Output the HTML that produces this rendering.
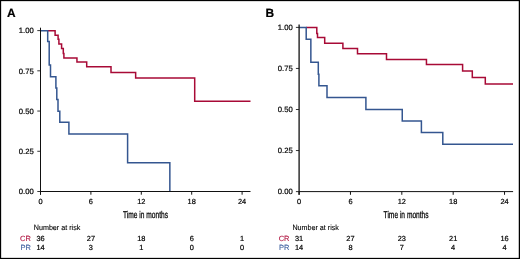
<!DOCTYPE html>
<html><head><meta charset="utf-8"><style>
html,body{margin:0;padding:0;background:#fff;}
svg{display:block;will-change:transform;text-rendering:geometricPrecision;font-family:"Liberation Sans",sans-serif;}
</style></head><body>
<svg width="520" height="259" viewBox="0 0 520 259">
<rect x="0" y="0" width="520" height="259" fill="#000"/>
<rect x="1.15" y="1.15" width="517.6" height="256.7" fill="#fff"/>
<text x="6.9" y="17.3" font-size="11.9" font-weight="bold" fill="#000" stroke="#000" stroke-width="0.2">A</text>
<path d="M47.7,30.85 H55.1 V35.2 H58.1 V39.3 H58.9 V44.1 H61.6 V48.5 H63.3 V53.4 H63.9 V58.0 H76.95 V62.1 H86.7 V66.75 H111 V72.5 H135.65 V78 H194.7 V101.2 H250.5" fill="none" stroke="#a80a36" stroke-width="1.5"/>
<path d="M40.5,30.85 H47.7 V41.5 H49.2 V65.1 H50.5 V76.8 H55.9 V88.1 H56.8 V99.6 H58.0 V111.2 H59.8 V122.3 H68.9 V134.1 H127.6 V162.8 H169.85 V191.5" fill="none" stroke="#345690" stroke-width="1.5"/>
<line x1="40.5" y1="27.70" x2="40.5" y2="194.70" stroke="#111" stroke-width="1"/>
<line x1="40.5" y1="191.50" x2="250.50" y2="191.50" stroke="#111" stroke-width="1"/>
<line x1="37.3" y1="30.60" x2="40.5" y2="30.60" stroke="#111" stroke-width="0.85"/>
<text x="33.80" y="33.30" text-anchor="end" font-size="7.7" fill="#000" stroke="#000" stroke-width="0.2">1.00</text>
<line x1="37.3" y1="70.82" x2="40.5" y2="70.82" stroke="#111" stroke-width="0.85"/>
<text x="33.80" y="73.52" text-anchor="end" font-size="7.7" fill="#000" stroke="#000" stroke-width="0.2">0.75</text>
<line x1="37.3" y1="111.05" x2="40.5" y2="111.05" stroke="#111" stroke-width="0.85"/>
<text x="33.80" y="113.75" text-anchor="end" font-size="7.7" fill="#000" stroke="#000" stroke-width="0.2">0.50</text>
<line x1="37.3" y1="151.28" x2="40.5" y2="151.28" stroke="#111" stroke-width="0.85"/>
<text x="33.80" y="153.97" text-anchor="end" font-size="7.7" fill="#000" stroke="#000" stroke-width="0.2">0.25</text>
<line x1="37.3" y1="191.50" x2="40.5" y2="191.50" stroke="#111" stroke-width="0.85"/>
<text x="33.80" y="194.20" text-anchor="end" font-size="7.7" fill="#000" stroke="#000" stroke-width="0.2">0.00</text>
<line x1="40.50" y1="191.50" x2="40.50" y2="194.70" stroke="#111" stroke-width="1"/>
<text x="40.50" y="204.40" text-anchor="middle" font-size="7.4" fill="#000" stroke="#000" stroke-width="0.2">0</text>
<line x1="90.90" y1="191.50" x2="90.90" y2="194.70" stroke="#111" stroke-width="1"/>
<text x="90.90" y="204.40" text-anchor="middle" font-size="7.4" fill="#000" stroke="#000" stroke-width="0.2">6</text>
<line x1="141.30" y1="191.50" x2="141.30" y2="194.70" stroke="#111" stroke-width="1"/>
<text x="141.30" y="204.40" text-anchor="middle" font-size="7.4" fill="#000" stroke="#000" stroke-width="0.2">12</text>
<line x1="191.70" y1="191.50" x2="191.70" y2="194.70" stroke="#111" stroke-width="1"/>
<text x="191.70" y="204.40" text-anchor="middle" font-size="7.4" fill="#000" stroke="#000" stroke-width="0.2">18</text>
<line x1="242.10" y1="191.50" x2="242.10" y2="194.70" stroke="#111" stroke-width="1"/>
<text x="242.10" y="204.40" text-anchor="middle" font-size="7.4" fill="#000" stroke="#000" stroke-width="0.2">24</text>
<text x="145.50" y="217.70" text-anchor="middle" font-size="9.8" fill="#000" stroke="#000" stroke-width="0.27" textLength="45" lengthAdjust="spacingAndGlyphs">Time in months</text>
<text x="33.80" y="229.80" font-size="7.5" fill="#000" stroke="#000" stroke-width="0.1" textLength="46.5" lengthAdjust="spacingAndGlyphs">Number at risk</text>
<text x="30.90" y="241.10" text-anchor="end" font-size="7.5" fill="#b01440" stroke="#b01440" stroke-width="0.1">CR</text>
<text x="30.90" y="250.20" text-anchor="end" font-size="7.5" fill="#3c5e9e" stroke="#3c5e9e" stroke-width="0.1">PR</text>
<text x="40.50" y="241.10" text-anchor="middle" font-size="7.4" fill="#000" stroke="#000" stroke-width="0.2">36</text>
<text x="40.50" y="250.20" text-anchor="middle" font-size="7.4" fill="#000" stroke="#000" stroke-width="0.2">14</text>
<text x="90.90" y="241.10" text-anchor="middle" font-size="7.4" fill="#000" stroke="#000" stroke-width="0.2">27</text>
<text x="90.90" y="250.20" text-anchor="middle" font-size="7.4" fill="#000" stroke="#000" stroke-width="0.2">3</text>
<text x="141.30" y="241.10" text-anchor="middle" font-size="7.4" fill="#000" stroke="#000" stroke-width="0.2">18</text>
<text x="141.30" y="250.20" text-anchor="middle" font-size="7.4" fill="#000" stroke="#000" stroke-width="0.2">1</text>
<text x="191.70" y="241.10" text-anchor="middle" font-size="7.4" fill="#000" stroke="#000" stroke-width="0.2">6</text>
<text x="191.70" y="250.20" text-anchor="middle" font-size="7.4" fill="#000" stroke="#000" stroke-width="0.2">0</text>
<text x="242.10" y="241.10" text-anchor="middle" font-size="7.4" fill="#000" stroke="#000" stroke-width="0.2">1</text>
<text x="242.10" y="250.20" text-anchor="middle" font-size="7.4" fill="#000" stroke="#000" stroke-width="0.2">0</text>
<text x="265.6" y="17.0" font-size="11.9" font-weight="bold" fill="#000" stroke="#000" stroke-width="0.2">B</text>
<path d="M306.2,27.6 H316.8 V33.4 H317.5 V37.6 H324.7 V43.2 H342.9 V48.45 H357.5 V53.8 H386.5 V59.4 H426.45 V64.5 H462.6 V70.9 H472.3 V77.4 H485.3 V84.0 H513" fill="none" stroke="#a80a36" stroke-width="1.5"/>
<path d="M299.1,27.6 H306.2 V39.3 H310.85 V62.2 H318.3 V74.3 H318.9 V85.7 H327.0 V97.6 H365.9 V109.55 H402.25 V121.0 H421.4 V132.4 H442.8 V144.2 H513" fill="none" stroke="#345690" stroke-width="1.5"/>
<line x1="299.1" y1="24.50" x2="299.1" y2="194.80" stroke="#111" stroke-width="1.3"/>
<line x1="299.1" y1="191.60" x2="513.10" y2="191.60" stroke="#111" stroke-width="1"/>
<line x1="295.90000000000003" y1="27.40" x2="299.1" y2="27.40" stroke="#111" stroke-width="0.85"/>
<text x="292.80" y="30.10" text-anchor="end" font-size="7.7" fill="#000" stroke="#000" stroke-width="0.2">1.00</text>
<line x1="295.90000000000003" y1="68.45" x2="299.1" y2="68.45" stroke="#111" stroke-width="0.85"/>
<text x="292.80" y="71.15" text-anchor="end" font-size="7.7" fill="#000" stroke="#000" stroke-width="0.2">0.75</text>
<line x1="295.90000000000003" y1="109.50" x2="299.1" y2="109.50" stroke="#111" stroke-width="0.85"/>
<text x="292.80" y="112.20" text-anchor="end" font-size="7.7" fill="#000" stroke="#000" stroke-width="0.2">0.50</text>
<line x1="295.90000000000003" y1="150.55" x2="299.1" y2="150.55" stroke="#111" stroke-width="0.85"/>
<text x="292.80" y="153.25" text-anchor="end" font-size="7.7" fill="#000" stroke="#000" stroke-width="0.2">0.25</text>
<line x1="295.90000000000003" y1="191.60" x2="299.1" y2="191.60" stroke="#111" stroke-width="0.85"/>
<text x="292.80" y="194.30" text-anchor="end" font-size="7.7" fill="#000" stroke="#000" stroke-width="0.2">0.00</text>
<line x1="299.10" y1="191.60" x2="299.10" y2="194.80" stroke="#111" stroke-width="1"/>
<text x="299.10" y="204.40" text-anchor="middle" font-size="7.4" fill="#000" stroke="#000" stroke-width="0.2">0</text>
<line x1="350.46" y1="191.60" x2="350.46" y2="194.80" stroke="#111" stroke-width="1"/>
<text x="350.46" y="204.40" text-anchor="middle" font-size="7.4" fill="#000" stroke="#000" stroke-width="0.2">6</text>
<line x1="401.82" y1="191.60" x2="401.82" y2="194.80" stroke="#111" stroke-width="1"/>
<text x="401.82" y="204.40" text-anchor="middle" font-size="7.4" fill="#000" stroke="#000" stroke-width="0.2">12</text>
<line x1="453.18" y1="191.60" x2="453.18" y2="194.80" stroke="#111" stroke-width="1"/>
<text x="453.18" y="204.40" text-anchor="middle" font-size="7.4" fill="#000" stroke="#000" stroke-width="0.2">18</text>
<line x1="504.54" y1="191.60" x2="504.54" y2="194.80" stroke="#111" stroke-width="1"/>
<text x="504.54" y="204.40" text-anchor="middle" font-size="7.4" fill="#000" stroke="#000" stroke-width="0.2">24</text>
<text x="406.10" y="217.70" text-anchor="middle" font-size="9.8" fill="#000" stroke="#000" stroke-width="0.27" textLength="45" lengthAdjust="spacingAndGlyphs">Time in months</text>
<text x="292.40" y="229.80" font-size="7.5" fill="#000" stroke="#000" stroke-width="0.1" textLength="46.5" lengthAdjust="spacingAndGlyphs">Number at risk</text>
<text x="289.50" y="241.10" text-anchor="end" font-size="7.5" fill="#b01440" stroke="#b01440" stroke-width="0.1">CR</text>
<text x="289.50" y="250.20" text-anchor="end" font-size="7.5" fill="#3c5e9e" stroke="#3c5e9e" stroke-width="0.1">PR</text>
<text x="299.10" y="241.10" text-anchor="middle" font-size="7.4" fill="#000" stroke="#000" stroke-width="0.2">31</text>
<text x="299.10" y="250.20" text-anchor="middle" font-size="7.4" fill="#000" stroke="#000" stroke-width="0.2">14</text>
<text x="350.46" y="241.10" text-anchor="middle" font-size="7.4" fill="#000" stroke="#000" stroke-width="0.2">27</text>
<text x="350.46" y="250.20" text-anchor="middle" font-size="7.4" fill="#000" stroke="#000" stroke-width="0.2">8</text>
<text x="401.82" y="241.10" text-anchor="middle" font-size="7.4" fill="#000" stroke="#000" stroke-width="0.2">23</text>
<text x="401.82" y="250.20" text-anchor="middle" font-size="7.4" fill="#000" stroke="#000" stroke-width="0.2">7</text>
<text x="453.18" y="241.10" text-anchor="middle" font-size="7.4" fill="#000" stroke="#000" stroke-width="0.2">21</text>
<text x="453.18" y="250.20" text-anchor="middle" font-size="7.4" fill="#000" stroke="#000" stroke-width="0.2">4</text>
<text x="504.54" y="241.10" text-anchor="middle" font-size="7.4" fill="#000" stroke="#000" stroke-width="0.2">16</text>
<text x="504.54" y="250.20" text-anchor="middle" font-size="7.4" fill="#000" stroke="#000" stroke-width="0.2">4</text>
</svg>
</body></html>
